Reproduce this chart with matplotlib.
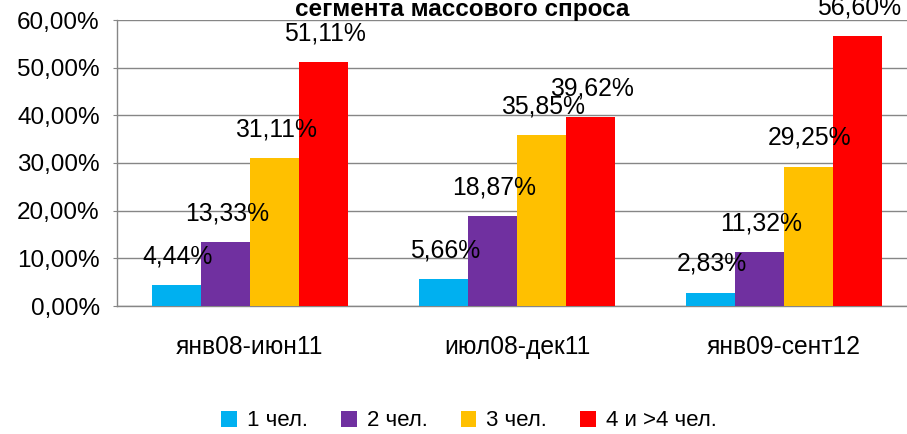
import matplotlib
matplotlib.use("Agg")
import matplotlib.pyplot as plt
import numpy as np

categories = ["янв08-июн11", "июл08-дек11", "янв09-сент12"]
series_names = ["1 чел.", "2 чел.", "3 чел.", "4 и >4 чел."]
s1 = [4.44, 5.66, 2.83]
s2 = [13.33, 18.87, 11.32]
s3 = [31.11, 35.85, 29.25]
s4 = [51.11, 39.62, 56.60]
colors = ["#00B0F0", "#7030A0", "#FFC000", "#FF0000"]
yticks = [0, 10, 20, 30, 40, 50, 60]
title = "сегмента массового спроса"

plt.rcParams['font.family'] = ['Liberation Sans', 'DejaVu Sans']

W, H = 907, 434
fig = plt.figure(figsize=(W / 100, H / 100), dpi=100)
left, right, top, bottom = 116.5, 917.5, 20, 306
ax = fig.add_axes([left / W, 1 - bottom / H, (right - left) / W, (bottom - top) / H])

x = np.arange(len(categories))
bw = 0.184
data = [s1, s2, s3, s4]
for i, (vals, c, name) in enumerate(zip(data, colors, series_names)):
    pos = x + (i - 1.5) * bw
    bars = ax.bar(pos, vals, width=bw, color=c, label=name, zorder=3)
    for b, v in zip(bars, vals):
        ax.annotate(f"{v:.2f}%".replace(".", ","),
                    (b.get_x() + b.get_width() / 2 + 0.005, v),
                    xytext=(0, 12), textcoords="offset points",
                    ha="center", va="bottom", fontsize=17.8, color="black", zorder=5)

ax.set_xlim(-0.5, 2.5)
ax.set_ylim(0, 60)
ax.set_yticks(yticks)
ax.set_yticklabels([f"{t:.2f}%".replace(".", ",") for t in yticks], fontsize=17.5)
ax.set_xticks(x)
ax.set_xticklabels(categories, fontsize=17.7)
ax.tick_params(axis='x', length=0, pad=21)
ax.tick_params(axis='y', length=3, color="#868686", pad=9)
ax.grid(axis='y', color="#868686", linewidth=1, zorder=0)
for s in ["top", "right"]:
    ax.spines[s].set_visible(False)
for s in ["left", "bottom"]:
    ax.spines[s].set_color("#868686")
    ax.spines[s].set_linewidth(1)

fig.text(462 / W, 1 - 16 / H, title, ha="center", va="baseline",
         fontsize=17.5, fontweight="bold")

handles, labels = ax.get_legend_handles_labels()
fig.legend(handles, labels, loc="center", bbox_to_anchor=(469 / W, 1 - 421 / H),
           ncol=4, frameon=False, fontsize=16, handlelength=0.7, handleheight=0.7,
           handletextpad=0.45, columnspacing=1.5)

fig.savefig("out.png", dpi=100)
